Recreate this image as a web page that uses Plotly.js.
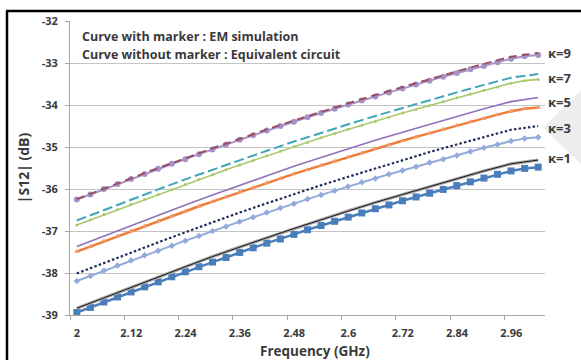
<!DOCTYPE html>
<html>
<head>
<meta charset="utf-8">
<script src="https://cdn.plot.ly/plotly-3.0.1.min.js"></script>
<style>html,body{margin:0;padding:0;background:#fff;}#chart{width:581px;height:360px;}</style>
</head>
<body>
<div id="chart"></div>
<script>
// Frequencies (GHz) of the simulated points
const freq = [2.00,2.03,2.06,2.09,2.12,2.15,2.18,2.21,2.24,2.27,2.30,2.33,2.36,2.39,2.42,2.45,2.48,2.51,2.54,2.57,2.60,2.63,2.66,2.69,2.72,2.75,2.78,2.81,2.84,2.87,2.90,2.93,2.96,2.99,3.02];
// Frequencies used for the equivalent-circuit curves
const freqCirc = [2.00,2.06,2.12,2.18,2.24,2.30,2.36,2.42,2.48,2.54,2.60,2.66,2.72,2.78,2.84,2.90,2.96,3.02];

// EM simulation (curves with markers), |S12| in dB
const em9 = [-36.25,-36.13,-36.00,-35.88,-35.76,-35.64,-35.52,-35.40,-35.29,-35.17,-35.06,-34.94,-34.83,-34.72,-34.61,-34.50,-34.40,-34.29,-34.19,-34.09,-33.99,-33.89,-33.80,-33.70,-33.61,-33.51,-33.42,-33.33,-33.24,-33.15,-33.07,-32.98,-32.90,-32.84,-32.81];
const em7 = [-36.86,-36.74,-36.61,-36.49,-36.37,-36.25,-36.13,-36.01,-35.89,-35.77,-35.66,-35.54,-35.43,-35.32,-35.21,-35.10,-34.99,-34.89,-34.78,-34.68,-34.58,-34.48,-34.39,-34.29,-34.19,-34.10,-34.01,-33.92,-33.83,-33.74,-33.65,-33.57,-33.48,-33.42,-33.39];
const em5 = [-37.49,-37.37,-37.24,-37.12,-37.00,-36.88,-36.76,-36.65,-36.53,-36.41,-36.30,-36.19,-36.07,-35.96,-35.86,-35.75,-35.64,-35.54,-35.44,-35.34,-35.24,-35.14,-35.04,-34.95,-34.85,-34.76,-34.67,-34.58,-34.49,-34.40,-34.32,-34.23,-34.15,-34.09,-34.06];
const em3 = [-38.19,-38.07,-37.94,-37.82,-37.70,-37.58,-37.47,-37.35,-37.23,-37.12,-37.00,-36.89,-36.78,-36.67,-36.56,-36.45,-36.35,-36.24,-36.14,-36.04,-35.94,-35.84,-35.75,-35.65,-35.56,-35.47,-35.37,-35.29,-35.20,-35.11,-35.02,-34.94,-34.86,-34.80,-34.77];
const em1 = [-38.94,-38.82,-38.69,-38.57,-38.45,-38.33,-38.21,-38.09,-37.97,-37.85,-37.74,-37.63,-37.51,-37.40,-37.29,-37.19,-37.08,-36.97,-36.87,-36.77,-36.67,-36.57,-36.47,-36.38,-36.28,-36.19,-36.10,-36.01,-35.92,-35.83,-35.74,-35.65,-35.57,-35.51,-35.48];

// Equivalent circuit (curves without marker), |S12| in dB
const ec9 = [-36.24,-35.99,-35.75,-35.50,-35.27,-35.03,-34.81,-34.58,-34.37,-34.16,-33.96,-33.76,-33.57,-33.38,-33.20,-33.02,-32.85,-32.76];
const ec7 = [-36.75,-36.50,-36.25,-36.01,-35.77,-35.54,-35.31,-35.09,-34.87,-34.66,-34.46,-34.26,-34.07,-33.88,-33.70,-33.52,-33.35,-33.26];
const ec5 = [-37.37,-37.12,-36.87,-36.62,-36.38,-36.14,-35.91,-35.68,-35.46,-35.25,-35.04,-34.84,-34.65,-34.46,-34.27,-34.09,-33.92,-33.82];
const ec3 = [-38.01,-37.76,-37.51,-37.27,-37.03,-36.79,-36.56,-36.34,-36.12,-35.91,-35.71,-35.51,-35.31,-35.12,-34.94,-34.76,-34.59,-34.50];
const ec1 = [-38.84,-38.59,-38.34,-38.09,-37.85,-37.61,-37.38,-37.16,-36.94,-36.73,-36.52,-36.32,-36.13,-35.94,-35.75,-35.57,-35.40,-35.31];

// Axis ticks
const tickPos = [1.985,2.105,2.225,2.345,2.465,2.585,2.705,2.825,2.945];
const tickText = ["2","2.12","2.24","2.36","2.48","2.6","2.72","2.84","2.96"];
const yTicks = [-39,-38,-37,-36,-35,-34,-33,-32];
const yTickText = ["-39","-38","-37","-36","-35","-34","-33","-32"];
const kappaLabels = ["κ=9","κ=7","κ=5","κ=3","κ=1"];
const kappaLabelY = [-32.76,-33.36,-33.93,-34.55,-35.26];

const FONT = '"Open Sans", Lato, sans-serif';
const TXT = '#3a3a3a';

const traces = [
  {x: freq, y: em1, mode: 'lines+markers', line: {color: '#4a7ebb', width: 2.5}, marker: {symbol: 'square', size: 7, color: '#4a7ebb'}},
  {x: freq, y: em3, mode: 'lines+markers', line: {color: '#93abdc', width: 2}, marker: {symbol: 'diamond', size: 5, color: '#93abdc'}},
  {x: freq, y: em5, mode: 'lines+markers', line: {color: '#ef7b3a', width: 2.5}, marker: {symbol: 'triangle-up', size: 5, color: '#f09a6a'}},
  {x: freq, y: em7, mode: 'lines+markers', line: {color: '#a8c96c', width: 1.6}, marker: {symbol: 'circle', size: 3, color: '#a8c96c'}},
  {x: freq, y: em9, mode: 'lines+markers', line: {color: '#a393c8', width: 2}, marker: {symbol: 'circle', size: 6, color: '#a393c8'}},
  {x: freqCirc, y: ec1, mode: 'lines', line: {color: '#a8a8a8', width: 3.2}},
  {x: freqCirc, y: ec1, mode: 'lines', line: {color: '#1a1a1a', width: 1}},
  {x: freqCirc, y: ec3, mode: 'lines', line: {color: '#1f2f5a', width: 2.2, dash: '2.5px,2.2px'}},
  {x: freqCirc, y: ec5, mode: 'lines', line: {color: '#9170bb', width: 1.6}},
  {x: freqCirc, y: ec7, mode: 'lines', line: {color: '#3ea6b8', width: 2, dash: '10px,4px'}},
  {x: freqCirc, y: ec9, mode: 'lines', line: {color: '#9e4c62', width: 2, dash: '8px,5px'}}
];

const px = v => (v - 70) / 475;       // pixel x -> paper
const py = v => (315 - v) / 294;      // pixel y -> paper

const annotations = [
  {xref: 'paper', yref: 'paper', x: px(80), y: py(37), xanchor: 'left', yanchor: 'middle', showarrow: false,
   text: 'Curve with marker : EM simulation', font: {family: FONT, size: 12.5, color: TXT, weight: 'bold'}},
  {xref: 'paper', yref: 'paper', x: px(80), y: py(54), xanchor: 'left', yanchor: 'middle', showarrow: false,
   text: 'Curve without marker : Equivalent circuit', font: {family: FONT, size: 12.5, color: TXT, weight: 'bold'}},
  {xref: 'paper', yref: 'paper', x: px(315), y: py(351), xanchor: 'center', yanchor: 'middle', showarrow: false,
   text: 'Frequency (GHz)', font: {family: FONT, size: 13.5, color: TXT, weight: 'bold'}}
];
kappaLabels.forEach((t, i) => annotations.push({
  xref: 'paper', yref: 'y', x: px(546), y: kappaLabelY[i], xanchor: 'left', yanchor: 'middle', showarrow: false,
  text: t, font: {family: FONT, size: 13, color: TXT, weight: 'bold'}
}));

const shapes = [
  {type: 'path', xref: 'paper', yref: 'paper', layer: 'below', line: {width: 0}, fillcolor: '#ededed',
   path: `M${px(543)},${py(128)} L${px(581)},${py(90)} L${px(581)},${py(164)} Z`},
  {type: 'line', xref: 'paper', yref: 'paper', x0: px(7), x1: px(7), y0: py(11), y1: py(365), line: {color: '#000', width: 2.5}},
  {type: 'line', xref: 'paper', yref: 'paper', x0: px(6), x1: px(590), y0: py(11), y1: py(11), line: {color: '#000', width: 2.5}}
];

const layout = {
  width: 581, height: 360,
  margin: {l: 70, r: 36, t: 21, b: 45, pad: 0},
  paper_bgcolor: '#ffffff', plot_bgcolor: '#ffffff',
  showlegend: false,
  font: {family: FONT, color: TXT},
  xaxis: {
    range: [1.985, 3.035], tickmode: 'array', tickvals: tickPos, ticktext: tickText,
    ticklabelshift: 7, ticklabelstandoff: 4, ticks: 'outside', ticklen: 4, tickcolor: '#a6a6a6', tickwidth: 1,
    showgrid: false, zeroline: false, showline: true, linecolor: '#a6a6a6', linewidth: 1,
    tickfont: {family: FONT, size: 11, color: TXT, weight: 'bold'}
  },
  yaxis: {
    range: [-39, -32], tickmode: 'array', tickvals: yTicks, ticktext: yTickText,
    ticklabelstandoff: 5,
    ticks: 'outside', ticklen: 4, tickcolor: '#a6a6a6', tickwidth: 1,
    showgrid: true, gridcolor: '#c4c4c4', gridwidth: 1, zeroline: false,
    showline: true, linecolor: '#a6a6a6', linewidth: 1,
    tickfont: {family: FONT, size: 11, color: TXT, weight: 'bold'},
    title: {text: '|S12| (dB)', standoff: 8, font: {family: FONT, size: 14, color: TXT, weight: 'bold'}}
  },
  annotations: annotations,
  shapes: shapes
};

Plotly.newPlot('chart', traces, layout, {displayModeBar: false, staticPlot: true});
</script>
</body>
</html>
